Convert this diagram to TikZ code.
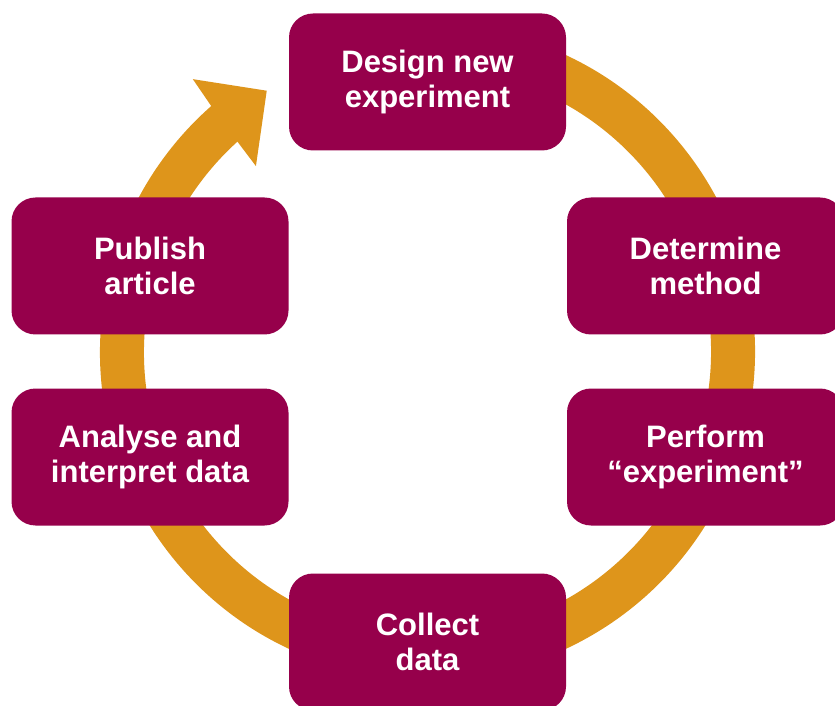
\documentclass[tikz,border=0pt]{standalone}
\usepackage{fontspec}
\setmainfont{Liberation Sans}
\usetikzlibrary{positioning}
\definecolor{wine}{RGB}{150,0,75}
\definecolor{amber}{RGB}{222,149,27}

\begin{document}
\begin{tikzpicture}[x=1pt, y=1pt,
    stage/.style={rectangle, fill=wine, rounded corners=24pt, minimum width=277pt, minimum height=137pt, align=center, text=white, font=\fontsize{31}{35}\selectfont\bfseries},
    ring/.style={draw=amber, line width=44pt},
    ]
    \path[use as bounding box, clip] (0,0) rectangle (835,705);
    \coordinate (hub) at (427.5,353);

    % Cycle
    \draw[ring] (hub) ++(80:305.5) arc[start angle=80, end angle=-229, radius=305.5];
    \fill[amber, shift={(hub)}] (131.3:328.7) -- (130.7:359.9) -- (121.6:306.8) -- (132.7:253) -- (132.1:283.6) -- cycle;

    % Nodes
    \node[stage] (design) at (427.5,623) {Design new\\experiment};
    \node[stage] (method) at (705.5,439) {Determine\\method};
    \node[stage] (perform) at (705.5,248) {Perform\\“experiment”};
    \node[stage] (collect) at (427.5,63) {Collect\\data};
    \node[stage] (analyse) at (150,248) {Analyse and\\interpret data};
    \node[stage] (publish) at (150,439) {Publish\\article};
\end{tikzpicture}
\end{document}
